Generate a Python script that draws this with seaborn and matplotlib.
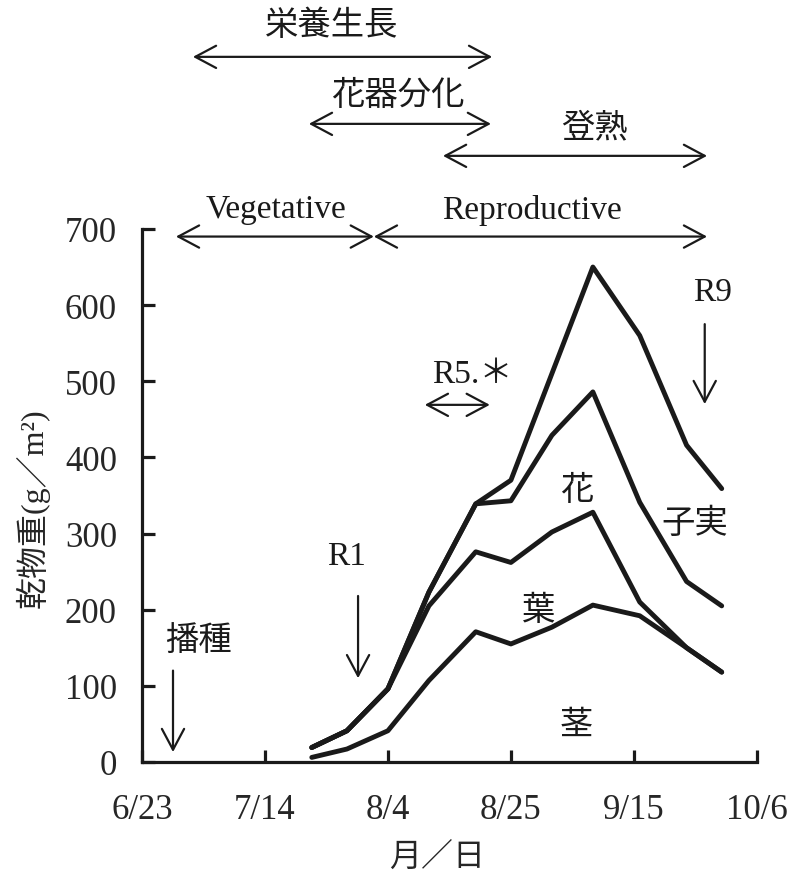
import seaborn as sns
import matplotlib.pyplot as plt
import pandas as pd

# days after 6/23 (sampling dates)
days = [29, 35, 42, 49, 57, 63, 70, 77, 85, 93, 99]
# cumulative dry weight (g/m2)
stem = [6, 17, 41, 107, 171, 155, 177, 206, 192, 150, 118]
leaf_top = [19, 41, 96, 205, 276, 262, 302, 328, 210, 150, 118]
flower_top = [19, 41, 96, 223, 339, 343, 429, 486, 341, 237, 205]
total = [19, 41, 96, 223, 339, 370, 510, 650, 560, 416, 359]

tick_days = [0, 21, 42, 63, 84, 105]
tick_labels = ['6/23', '7/14', '8/4', '8/25', '9/15', '10/6']

sns.set_style('ticks')
plt.rcParams['font.family'] = ['Liberation Serif', 'Noto Sans CJK JP']

df = pd.concat([
    pd.DataFrame({'day': days, 'g': v, 'part': name})
    for name, v in [('茎', stem), ('葉', leaf_top), ('花', flower_top), ('子実', total)]
])

fig = plt.figure(figsize=(8.08, 8.79), dpi=100)
ax = fig.add_axes([0.1757, 0.132, 0.761, 0.6064])
sns.lineplot(data=df, x='day', y='g', hue='part', palette=['#1a1a1a'] * 4,
             linewidth=3.5, legend=False, ax=ax)

ax.set_xlim(0, 105)
ax.set_ylim(0, 700)
ax.set_xticks(tick_days)
ax.set_xticklabels(tick_labels)
ax.set_yticks(range(0, 701, 100))
sns.despine(ax=ax)
for s in ['left', 'bottom']:
    ax.spines[s].set_linewidth(2.3)
    ax.spines[s].set_color('#1a1a1a')
ax.tick_params(direction='in', length=9, width=2.3, labelsize=25, color='#1a1a1a')
ax.tick_params(axis='x', pad=22)
ax.tick_params(axis='y', pad=18)
ax.set_xlabel('')
ax.set_ylabel('')

fig.text(437 / 808, 1 - 858 / 879, '月／日', fontsize=23, ha='center', va='center')
fig.text(33 / 808, 1 - 508 / 879, '乾物重(g／m²)', fontsize=23, rotation=90,
         ha='center', va='center')

tc = '#1a1a1a'


def arrow(x0, y0, x1, y1, style='->'):
    ax.annotate('', xy=(x1, y1), xytext=(x0, y0), annotation_clip=False,
                arrowprops=dict(arrowstyle=style + ',head_length=0.75,head_width=0.4',
                                mutation_scale=20, lw=1.6, color=tc,
                                shrinkA=0, shrinkB=0))


def label(x, y, s, size=24, ha='center'):
    ax.text(x, y, s, fontsize=size, ha=ha, va='center', color=tc, clip_on=False)


# stage markers inside the plot
label(9.6, 158, '播種')
arrow(5.3, 120, 5.3, 13)
label(35, 271, 'R1')
arrow(36.9, 218, 36.9, 110)
label(49.5, 510, 'R5.＊', ha='left')
arrow(48.3, 469, 59.4, 469, '<->')
label(97.4, 617, 'R9')
arrow(96.1, 575, 96.1, 470)

label(74.2, 356, '花')
label(67.7, 199, '葉')
label(74.2, 48, '茎')
label(94.4, 313, '子実')

# growth stages above the plot
label(22.9, 726, 'Vegetative')
label(66.6, 726, 'Reproductive')
arrow(5.8, 690, 39.6, 690, '<->')
arrow(39.6, 690, 96.5, 690, '<->')
label(32.4, 967, '栄養生長')
arrow(8.7, 926, 59.8, 926, '<->')
label(43.7, 875, '花器分化')
arrow(28.5, 838, 59.6, 838, '<->')
label(77.3, 832, '登熟')
arrow(51.4, 796, 96.5, 796, '<->')

fig.savefig('out.png', dpi=100)
